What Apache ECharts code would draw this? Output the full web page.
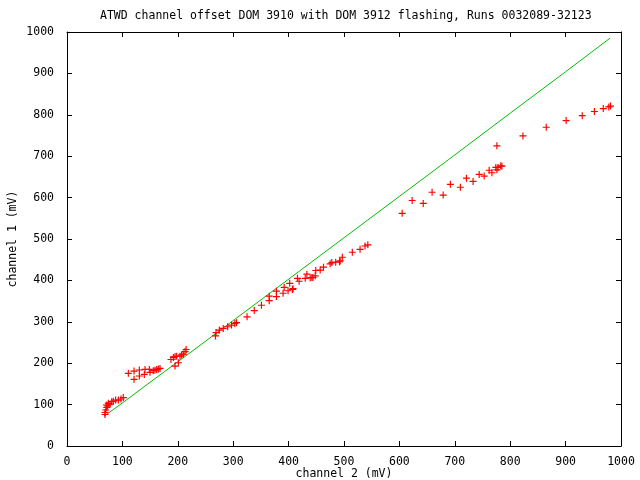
<!DOCTYPE html>
<html>
<head>
<meta charset="utf-8">
<script src="https://cdn.jsdelivr.net/npm/echarts@6/dist/echarts.min.js"></script>
<style>
  html, body { margin: 0; padding: 0; background: #fff; }
  #chart { width: 640px; height: 480px; }
</style>
</head>
<body>
<div id="chart"></div>
<script>
  // ATWD offset, channel 2 (x) vs channel 1 (y), mV
  var ch2 = [
    68.6, 68.6, 70, 71, 71.6, 73.4, 74.6, 77.6, 80.6, 83.6, 87.8, 92.7, 97.5, 101.6,
    110.7, 121, 130.6, 121, 130.6, 140.8, 139.6, 148.6, 149.8, 155.8, 158.8, 161.9, 164.9, 167.9,
    187.7, 192, 195, 198, 204, 207, 195, 201, 210, 213, 215,
    268, 269, 275, 282, 290, 297, 303, 306, 325, 338, 351, 365, 365, 378, 378, 390, 392, 399, 402, 407, 408,
    416, 419, 430, 433, 439, 442, 448, 449, 444, 457, 463, 475, 478, 485, 492, 493, 497, 515, 529, 538, 543,
    605, 623, 643, 659, 679, 692, 710, 721, 733, 744, 753, 762, 767, 774, 776, 778, 783, 785, 776,
    823, 865, 901, 930, 952, 968, 978, 981
  ]
  var ch1 = [
    76, 81, 87, 99, 93, 97, 103, 101, 107, 108, 111, 111, 113.5, 117,
    175.6, 181, 183.6, 161, 169, 185, 173, 185, 178, 182, 183, 185, 186, 187.5,
    209, 214, 216, 217, 217, 220, 193, 201, 222, 228, 233,
    266, 274, 280, 284, 288, 292, 296, 298, 312, 327, 340, 351, 362, 361, 374, 369, 383, 375, 393, 378, 380,
    405, 398, 405, 415, 406, 407, 411, 424, 407, 425, 432, 440, 443, 444, 445, 447, 456, 468, 475, 483, 486,
    562, 593, 586, 613, 606, 632, 625, 647, 639, 656, 652, 666, 660, 673, 667, 673, 677, 676, 725,
    749, 770, 786, 798, 808, 815, 819, 821
  ]
  // reference line
  var lineX = [67, 100, 150, 231, 300, 420, 457, 543, 601, 688, 800, 900, 980]
  var lineY = [72, 104, 154, 234, 303, 423, 460, 546, 604, 691, 804, 904, 985]
  var ticks = [0, 100, 200, 300, 400, 500, 600, 700, 800, 900, 1000]

  var font = 'DejaVu Sans Mono'
  var points = ch2.map(function (v, i) { return [v, ch1[i]] })
  var linePts = lineX.map(function (v, i) { return [v, lineY[i]] })

  function axis (pos, show, name, gap, margin) {
    return {
      type: 'value',
      position: pos,
      min: ticks[0],
      max: ticks[ticks.length - 1],
      interval: 100,
      name: name,
      nameLocation: 'middle',
      nameGap: gap,
      nameMoveOverlap: false,
      nameRotate: (pos === 'left') ? 90 : 0,
      nameTextStyle: {color: '#000', fontFamily: font, fontSize: 11.5},
      axisLine: {show: true, onZero: false, lineStyle: {color: '#000', width: 1}},
      axisTick: {show: true, inside: true, length: 5, lineStyle: {color: '#000'}},
      axisLabel: {
        show: show, color: '#000', fontFamily: font, fontSize: 11.5, margin: margin,
        formatter: function (v) { return String(v) }
      },
      splitLine: {show: false}
    }
  }

  var option = {
    animation: false,
    backgroundColor: '#fff',
    title: {
      text: 'ATWD channel offset DOM 3910 with DOM 3912 flashing, Runs 0032089-32123',
      left: 95,
      top: 5,
      textStyle: {color: '#000', fontFamily: font, fontSize: 11.5, fontWeight: 'normal'}
    },
    grid: {left: 67, right: 19, top: 32, bottom: 34, containLabel: false, outerBoundsMode: 'none'},
    xAxis: [axis('bottom', true, 'channel 2 (mV)', 22, 10), axis('top', false, '', 0, 0)],
    yAxis: [axis('left', true, 'channel 1 (mV)', 48, 13), axis('right', false, '', 0, 0)],
    series: [
      {
        type: 'line',
        data: linePts,
        showSymbol: false,
        lineStyle: {color: '#00c000', width: 1},
        z: 1
      },
      {
        type: 'scatter',
        data: points,
        symbol: 'path://M3,0h1.2v3h3v1.2h-3v3h-1.2v-3h-3v-1.2h3z',
        symbolSize: 7,
        itemStyle: {color: '#ff0000', opacity: 1},
        z: 2
      }
    ]
  }

  var chart = echarts.init(document.getElementById('chart'))
  chart.setOption(option)
</script>
</body>
</html>
